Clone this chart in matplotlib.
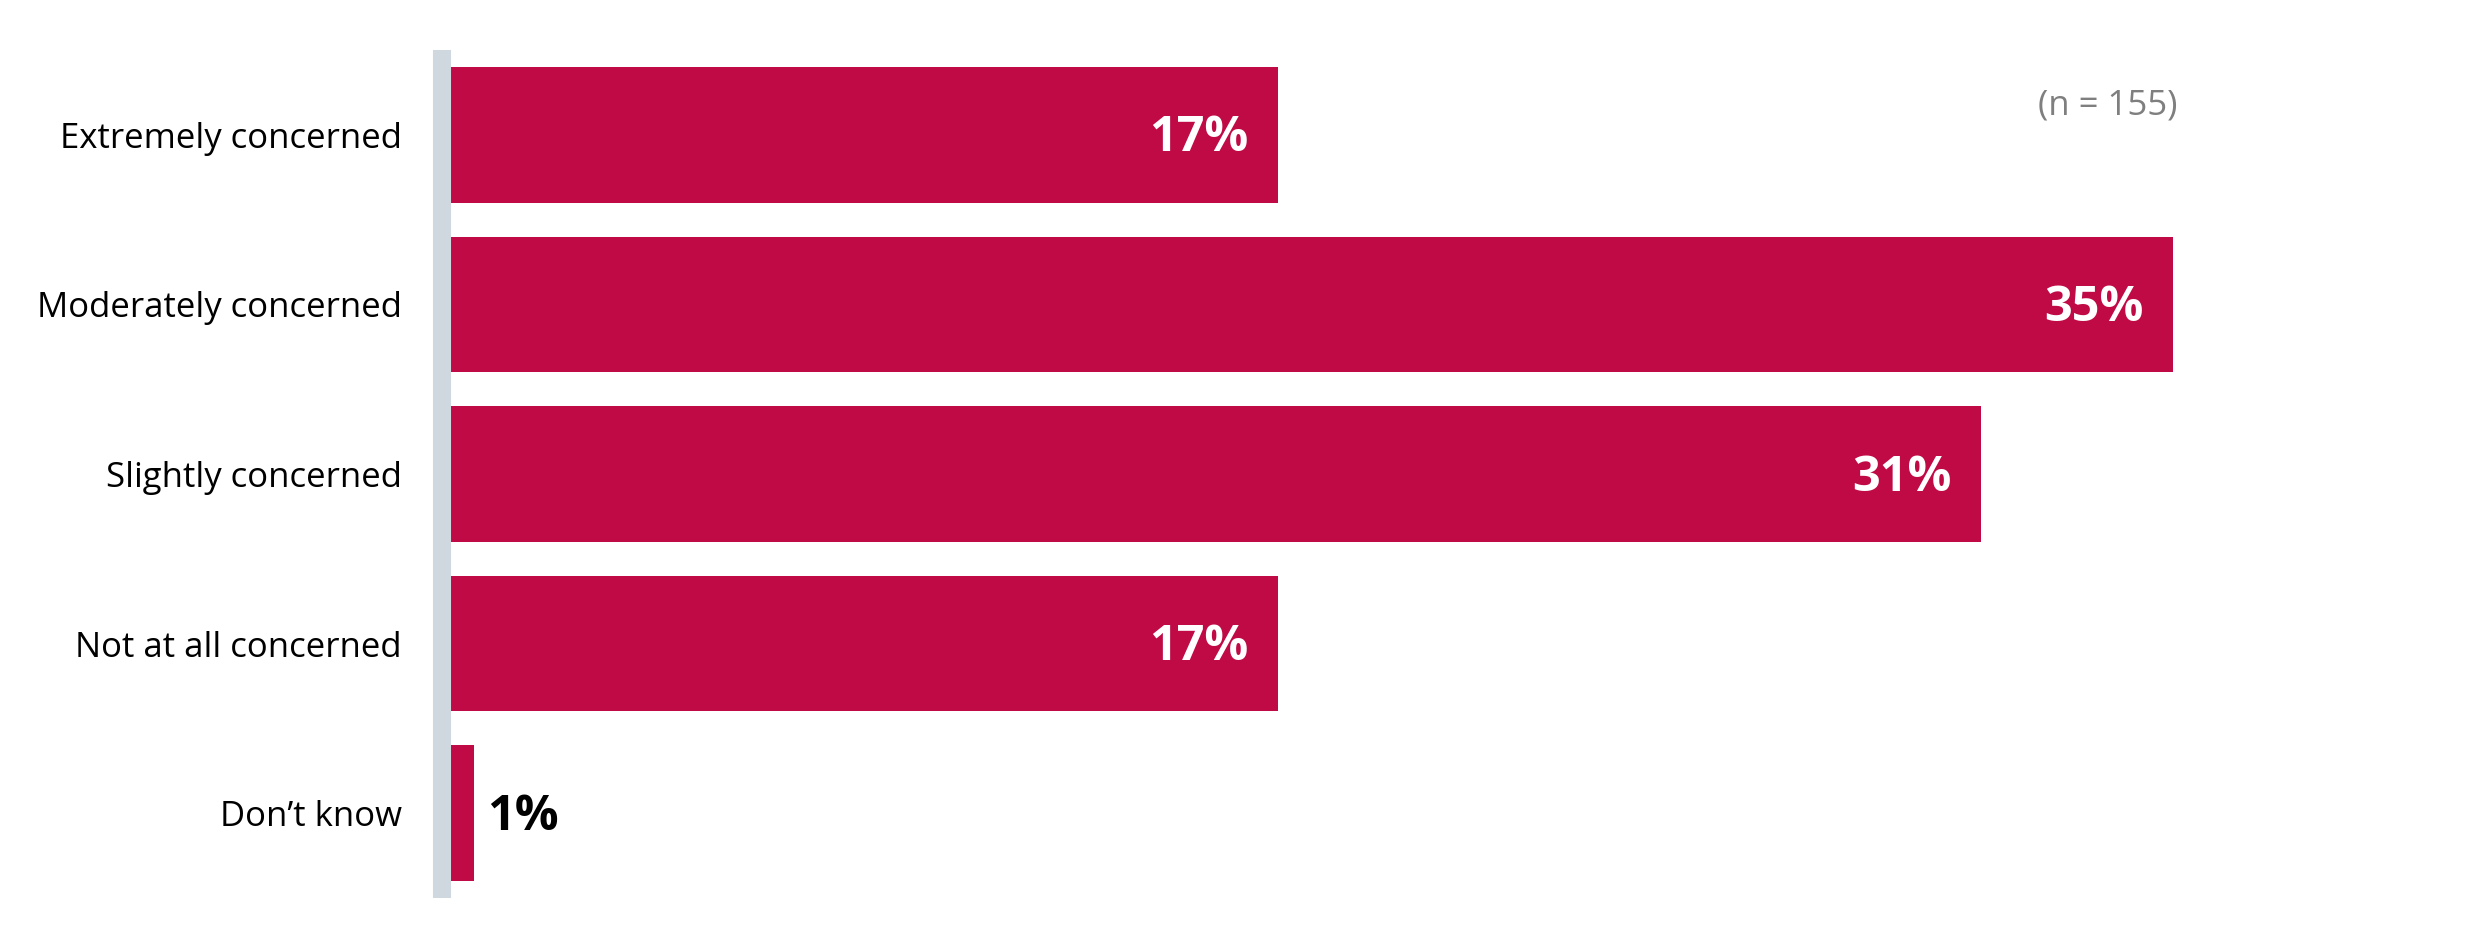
import matplotlib
matplotlib.use("Agg")
import matplotlib.pyplot as plt

categories = [
    "Extremely concerned",
    "Moderately concerned",
    "Slightly concerned",
    "Not at all concerned",
    "Don\u2019t know",
]
values = [16.8, 35.0, 31.1, 16.8, 0.47]
labels = ["17%", "35%", "31%", "17%", "1%"]
note = "(n = 155)"

bar_color = "#C00A46"
axis_color = "#CED8DE"

plt.rcParams["font.family"] = ["Open Sans", "DejaVu Sans"]

fig = plt.figure(figsize=(24.8, 9.49), dpi=100)
ax = fig.add_axes([451 / 2480, 51 / 949, 1968 / 2480, 848 / 949])

ypos = list(range(len(categories)))
ax.barh(ypos, values, height=0.8, color=bar_color)
ax.set_xlim(0, 40)
ax.set_ylim(4.5, -0.5)

for y, v, lab in zip(ypos, values, labels):
    if v > 5:
        ax.annotate(lab, (v, y), xytext=(-21, -3), textcoords="offset points",
                    ha="right", va="center", color="white",
                    fontsize=35, fontweight="bold")
    else:
        ax.annotate(lab, (v, y), xytext=(9, -3), textcoords="offset points",
                    ha="left", va="center", color="black",
                    fontsize=35, fontweight="bold")

for side in ["top", "right", "bottom"]:
    ax.spines[side].set_visible(False)
ax.spines["left"].set_position(("outward", 6.5))
ax.spines["left"].set_linewidth(13)
ax.spines["left"].set_color(axis_color)
ax.spines["left"].set_capstyle("butt")

ax.set_xticks([])
ax.set_yticks(ypos)
ax.set_yticklabels(categories, fontsize=25)
ax.tick_params(axis="y", length=0, pad=29)

fig.text(2177 / 2480, 1 - 106 / 949, note, ha="right", va="center",
         fontsize=25, color="#7F7F7F")

fig.savefig("out.png", dpi=100)
